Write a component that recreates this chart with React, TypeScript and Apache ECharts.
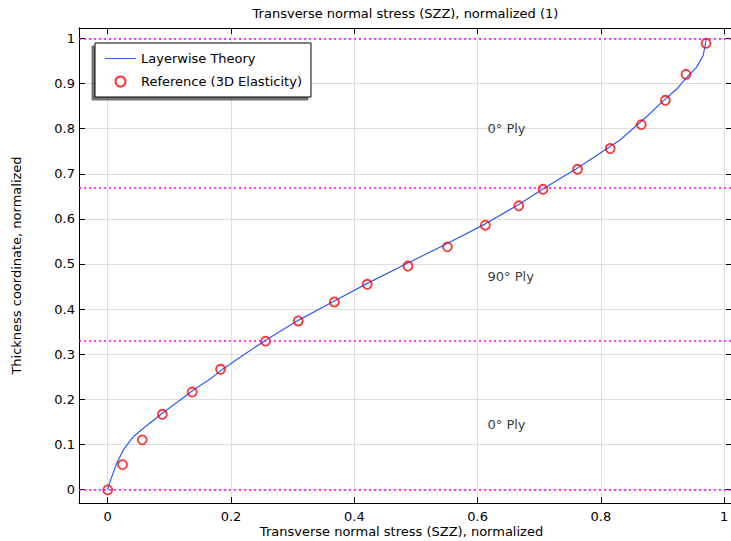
import React, { useEffect, useRef } from "react";
import * as echarts from "echarts";

const curveX = [0, 0.003, 0.0065, 0.0146, 0.0253, 0.0415, 0.0577, 0.0876, 0.117, 0.139, 0.166, 0.183, 0.22, 0.256, 0.309, 0.3676, 0.421, 0.487, 0.55, 0.6125, 0.6667, 0.7066, 0.766, 0.831, 0.874, 0.9045, 0.923, 0.938, 0.955, 0.966, 0.971];
const curveY = [0, 0.015, 0.028, 0.058, 0.0876, 0.117, 0.1357, 0.168, 0.198, 0.2206, 0.245, 0.263, 0.298, 0.331, 0.375, 0.418, 0.457, 0.502, 0.545, 0.589, 0.632, 0.667, 0.716, 0.775, 0.8266, 0.866, 0.888, 0.912, 0.936, 0.963, 1.0];

const refX = [0, 0.024, 0.056, 0.0886, 0.137, 0.183, 0.256, 0.309, 0.3676, 0.421, 0.487, 0.551, 0.6125, 0.6667, 0.706, 0.762, 0.815, 0.8655, 0.9045, 0.938, 0.9705];
const refY = [-0.001, 0.055, 0.11, 0.1667, 0.216, 0.2665, 0.329, 0.3736, 0.4157, 0.455, 0.4955, 0.538, 0.586, 0.629, 0.6656, 0.71, 0.756, 0.809, 0.863, 0.9206, 0.9894];

const plyBoundaries = [0, 0.3333, 0.6667, 1];
const plyLabels = ["0° Ply", "90° Ply", "0° Ply"];
const plyLabelX = [0.616, 0.616, 0.616];
const plyLabelY = [0.8, 0.472, 0.145];

const xRange = [-0.0466, 1.0126];
const yRange = [-0.03, 1.0233];

const FONT = "DejaVu Sans";
const LINE_ICON = "path://M0,0L0.01,0L0,0ZM0,10L0.01,10L0,10ZM0,4.4L31,4.4L31,5.6L0,5.6Z";

export default function App() {
  const ref = useRef<HTMLDivElement>(null);
  useEffect(() => {
    if (!ref.current) return;
    const chart = echarts.init(ref.current, null, { renderer: "svg" });
    const axisCommon = {
      type: "value" as const,
      axisLine: { show: true, onZero: false, lineStyle: { color: "#000", width: 1 } },
      axisTick: { show: true, inside: true, length: 6, lineStyle: { color: "#000", width: 1 } },
    };
    const option = {
      animation: false,
      textStyle: { fontFamily: FONT, fontSize: 13, color: "#000" },
      grid: { left: 79, right: -1, top: 28, bottom: 38, containLabel: false, outerBoundsMode: "none" },
      legend: {
        left: 95,
        top: 43,
        orient: "vertical",
        padding: [9, 9, 9, 10],
        itemWidth: 31,
        itemHeight: 10,
        itemGap: 10,
        textStyle: { fontFamily: FONT, fontSize: 13, color: "#000" },
        backgroundColor: "#fff",
        borderColor: "#000",
        borderWidth: 1,
        borderRadius: 0,
        shadowColor: "rgba(0,0,0,0.55)",
        shadowBlur: 0,
        shadowOffsetX: -3,
        shadowOffsetY: 3,
        data: [
          { name: "Layerwise Theory", icon: LINE_ICON },
          { name: "Reference (3D Elasticity)" },
        ],
      },
      xAxis: [
        {
          ...axisCommon,
          position: "bottom",
          min: xRange[0],
          max: xRange[1],
          minInterval: 0.2,
          maxInterval: 0.2,
          axisLabel: { margin: 7, fontSize: 13, color: "#000", fontFamily: FONT, showMinLabel: false, showMaxLabel: false },
          splitLine: { show: true, lineStyle: { color: "#dedede", width: 1 } },
          name: "Transverse normal stress (SZZ), normalized",
          nameLocation: "middle",
          nameGap: 22,
          nameMoveOverlap: false,
          nameTextStyle: { fontSize: 13, color: "#000", fontFamily: FONT, padding: [0, 8, 0, 0] },
        },
        {
          ...axisCommon,
          position: "top",
          min: xRange[0],
          max: xRange[1],
          minInterval: 0.2,
          maxInterval: 0.2,
          axisLabel: { show: false },
          splitLine: { show: false },
          name: "Transverse normal stress (SZZ), normalized (1)",
          nameLocation: "middle",
          nameGap: 8,
          nameTextStyle: { fontSize: 13, color: "#000", fontFamily: FONT },
        },
      ],
      yAxis: [
        {
          ...axisCommon,
          position: "left",
          min: yRange[0],
          max: yRange[1],
          minInterval: 0.1,
          maxInterval: 0.1,
          axisLabel: { margin: 4, fontSize: 13, color: "#000", fontFamily: FONT, showMinLabel: false, showMaxLabel: false },
          splitLine: { show: true, lineStyle: { color: "#dedede", width: 1 } },
          name: "Thickness coordinate, normalized",
          nameLocation: "middle",
          nameGap: 56,
          nameRotate: 90,
          nameMoveOverlap: false,
          nameTextStyle: { fontSize: 13, color: "#000", fontFamily: FONT },
        },
        {
          ...axisCommon,
          position: "right",
          min: yRange[0],
          max: yRange[1],
          minInterval: 0.1,
          maxInterval: 0.1,
          axisLabel: { show: false },
          splitLine: { show: false },
        },
      ],
      series: [
        {
          name: "plyLines",
          type: "line",
          data: [],
          silent: true,
          markLine: {
            silent: true,
            symbol: ["none", "none"],
            label: { show: false },
            lineStyle: { color: "#ff00ff", type: [2, 3], width: 1.5 },
            data: plyBoundaries.map((v) => ({ yAxis: v })),
          },
        },
        {
          name: "Layerwise Theory",
          type: "line",
          symbol: "none",
          data: curveX.map((x, i) => [x, curveY[i]]),
          lineStyle: { color: "#2a5cff", width: 1.2 },
          itemStyle: { color: "#2a5cff" },
          z: 3,
        },
        {
          name: "Reference (3D Elasticity)",
          type: "scatter",
          symbol: "circle",
          symbolSize: 9,
          data: refX.map((x, i) => [x, refY[i]]),
          itemStyle: { color: "rgba(255,255,255,0)", borderColor: "#ff0000", borderWidth: 1.8 },
          z: 4,
        },
        {
          name: "plyText",
          type: "scatter",
          symbolSize: 0.01,
          silent: true,
          data: plyLabelX.map((x, i) => [x, plyLabelY[i], plyLabels[i]]),
          label: {
            show: true,
            position: "right",
            distance: 0,
            formatter: (p: any) => p.data[2],
            fontSize: 13,
            fontFamily: FONT,
            color: "#000",
          },
        },
      ],
    };
    chart.setOption(option as any);
    return () => chart.dispose();
  }, []);
  return <div ref={ref} style={{ position: "absolute", left: 0, top: 0, width: 731, height: 541 }} />;
}
